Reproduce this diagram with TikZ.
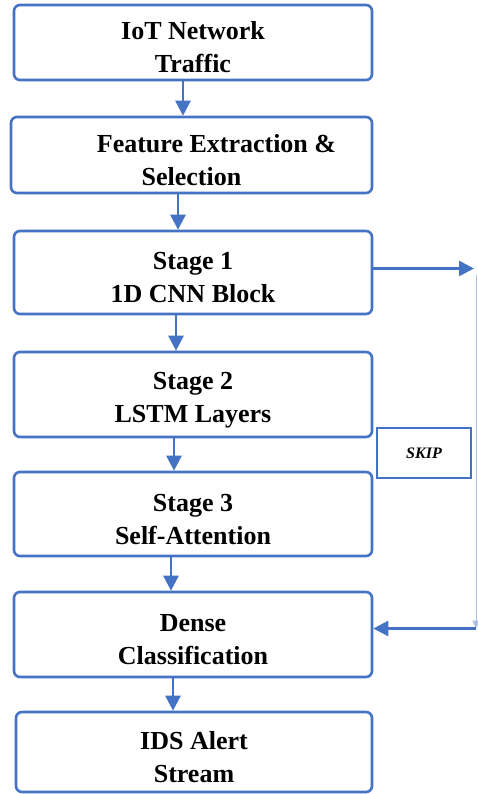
\documentclass[tikz,border=0pt]{standalone}
\usepackage{fontspec}
\setmainfont{Liberation Serif}
\usepackage{tikz}
\usetikzlibrary{arrows.meta,positioning}
\definecolor{flowblue}{RGB}{68,114,196}
\newcommand{\topgap}{\rule{0pt}{28pt}}
\tikzset{
  stagebox/.style={ draw=flowblue, line width=2.6pt, rounded corners=6pt, align=center,
    font=\fontsize{26}{33}\selectfont\bfseries, minimum width=358pt }
}
\tikzset{
  skipbox/.style={ draw=flowblue, line width=2.4pt, minimum width=94pt, minimum height=50pt,
    font=\fontsize{16}{18}\selectfont\bfseries\itshape }
}
\tikzset{
  flow/.style={ draw=flowblue, line width=2.6pt, -{Triangle[length=15pt,width=15pt]} }
}

\begin{document}
\begin{tikzpicture}[x=1pt, y=-1pt]
      \useasboundingbox (0,0) rectangle (477,794);

      \node[stagebox, minimum height=75pt] (traffic) at (193, 42.5) {\topgap IoT Network\\Traffic};
      \node[stagebox, minimum height=76pt, minimum width=361pt] (feat) at (191.5, 155) {\topgap\hspace*{50pt}Feature Extraction \&\\Selection};
      \node[stagebox, minimum height=83pt] (cnn) at (193, 272.5) {\topgap Stage 1\\1D CNN Block};
      \node[stagebox, minimum height=85pt] (lstm) at (193, 394.5) {\topgap Stage 2\\LSTM Layers};
      \node[skipbox] (skip) at (424, 453) {SKIP};
      \node[stagebox, minimum height=84pt] (attn) at (193, 514) {\topgap Stage 3\\Self-Attention};
      \node[stagebox, minimum height=85pt] (dense) at (193, 634.5) {\topgap Dense\\Classification};
      \node[stagebox, minimum height=80pt, minimum width=356pt] (alert) at (194, 752) {\topgap IDS Alert\\Stream};

      \coordinate (skipTop) at (474, 268.5);
      \coordinate (skipBot) at (476, 628.5);

      \draw[flow] ([xshift=-10pt]traffic.south) -- ([xshift=-10pt]traffic.south |- feat.north);
      \draw[flow] ([xshift=-13.5pt]feat.south) -- ([xshift=-13.5pt]feat.south |- cnn.north);
      \draw[flow] ([xshift=-17pt]cnn.south) -- ([xshift=-17pt]cnn.south |- lstm.north);
      \draw[flow] ([xshift=-19pt]lstm.south) -- ([xshift=-19pt]lstm.south |- attn.north);
      \draw[flow] ([xshift=-22pt]attn.south) -- ([xshift=-22pt]attn.south |- dense.north);
      \draw[flow] ([xshift=-20pt]dense.south) -- ([xshift=-20pt]dense.south |- alert.north);

      % skip path
      \draw[flow] ([yshift=4pt]cnn.east) -- (skipTop);
      \draw[draw=flowblue!45, line width=0.8pt, -{Triangle[length=8pt,width=7pt]}] (476, 275) -- (skipBot);
      \draw[flow] (skipBot) -- ([yshift=6pt]dense.east);
    \end{tikzpicture}
\end{document}
